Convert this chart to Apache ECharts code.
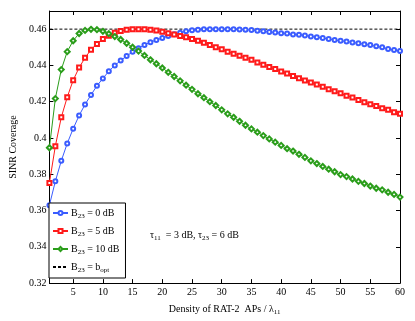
<!DOCTYPE html>
<html>
<head>
<meta charset="utf-8">
<script src="https://cdn.jsdelivr.net/npm/echarts@6/dist/echarts.min.js"></script>
<style>
  html, body { margin: 0; padding: 0; background: #fff; }
  #chart { width: 415px; height: 321px; }
</style>
</head>
<body>
<div id="chart"></div>
<script>
// density of RAT-2 APs / lambda_11
const density = [1, 2, 3, 4, 5, 6, 7, 8, 9, 10, 11, 12, 13, 14, 15, 16, 17, 18, 19, 20,
  21, 22, 23, 24, 25, 26, 27, 28, 29, 30, 31, 32, 33, 34, 35, 36, 37, 38, 39, 40,
  41, 42, 43, 44, 45, 46, 47, 48, 49, 50, 51, 52, 53, 54, 55, 56, 57, 58, 59, 60];

const b0 = [0.3629, 0.3761, 0.3874, 0.3970, 0.4051, 0.4124, 0.4185, 0.4237, 0.4288, 0.4328,
  0.4368, 0.4400, 0.4427, 0.4452, 0.4475, 0.4495, 0.4513, 0.4528, 0.4540, 0.4551,
  0.4562, 0.4572, 0.4580, 0.4588, 0.4594, 0.4597, 0.4599, 0.4600, 0.4600, 0.4600,
  0.4600, 0.4599, 0.4598, 0.4597, 0.4595, 0.4591, 0.4588, 0.4584, 0.4582, 0.4578,
  0.4576, 0.4571, 0.4569, 0.4565, 0.4560, 0.4555, 0.4551, 0.4546, 0.4540, 0.4536,
  0.4532, 0.4527, 0.4522, 0.4517, 0.4512, 0.4506, 0.4500, 0.4491, 0.4485, 0.4479];

const b5 = [0.3752, 0.3955, 0.4114, 0.4225, 0.4318, 0.4388, 0.4442, 0.4487, 0.4518, 0.4545,
  0.4564, 0.4580, 0.4590, 0.4596, 0.4599, 0.4600, 0.4599, 0.4596, 0.4592, 0.4586,
  0.4578, 0.4570, 0.4562, 0.4555, 0.4546, 0.4536, 0.4525, 0.4512, 0.4500, 0.4489,
  0.4476, 0.4464, 0.4453, 0.4442, 0.4431, 0.4416, 0.4404, 0.4391, 0.4380, 0.4367,
  0.4355, 0.4342, 0.4329, 0.4317, 0.4306, 0.4295, 0.4282, 0.4269, 0.4258, 0.4246,
  0.4233, 0.4223, 0.4209, 0.4197, 0.4186, 0.4176, 0.4164, 0.4155, 0.4142, 0.4133];

const b10 = [0.3946, 0.4217, 0.4377, 0.4476, 0.4536, 0.4576, 0.4593, 0.4599, 0.4597, 0.4588,
  0.4575, 0.4559, 0.4543, 0.4522, 0.4500, 0.4479, 0.4455, 0.4431, 0.4409, 0.4386,
  0.4362, 0.4339, 0.4315, 0.4291, 0.4268, 0.4244, 0.4222, 0.4200, 0.4179, 0.4155,
  0.4133, 0.4114, 0.4092, 0.4070, 0.4050, 0.4032, 0.4013, 0.3995, 0.3977, 0.3959,
  0.3941, 0.3928, 0.3910, 0.3893, 0.3874, 0.3859, 0.3843, 0.3828, 0.3814, 0.3798,
  0.3787, 0.3774, 0.3761, 0.3749, 0.3735, 0.3723, 0.3714, 0.3701, 0.3689, 0.3674];

const optLevel = 0.46;
const optX = [1, 60];

const xTicks = [5, 10, 15, 20, 25, 30, 35, 40, 45, 50, 55, 60];
const yTicks = [0.32, 0.34, 0.36, 0.38, 0.4, 0.42, 0.44, 0.46];

const seriesNames = ['B23 = 0 dB', 'B23 = 5 dB', 'B23 = 10 dB', 'B23 = b_opt'];
const legendRich = {
  '0': '{n|B}{s|23}{n| = 0 dB}',
  '1': '{n|B}{s|23}{n| = 5 dB}',
  '2': '{n|B}{s|23}{n| = 10 dB}',
  '3': '{n|B}{s|23}{n| = b}{s|opt}'
};

const font = 'Liberation Serif';
const rich = {
  n: { fontFamily: font, fontSize: 10, color: '#000', lineHeight: 14 },
  s: { fontFamily: font, fontSize: 7, color: '#000', lineHeight: 14, padding: [7, 0, 0, 0] }
};

function pairs(ys) {
  return density.map((x, i) => [x, ys[i]]);
}

const chart = echarts.init(document.getElementById('chart'), null, { renderer: 'canvas' });

const baseX = {
  type: 'value', min: 1, max: 60,
  axisLine: { show: true, onZero: false, lineStyle: { color: '#000', width: 1 } },
  splitLine: { show: false }
};
const baseY = {
  type: 'value', min: 0.32, max: 0.47, interval: 0.02,
  axisLine: { show: true, onZero: false, lineStyle: { color: '#000', width: 1 } },
  splitLine: { show: false }
};

const option = {
  animation: false,
  backgroundColor: '#fff',
  grid: { left: 35, right: 15, top: 11, bottom: 34, containLabel: false },
  xAxis: [
    Object.assign({}, baseX, {
      position: 'bottom',
      name: '{n|Density of RAT-2  APs / λ}{s|11}',
      nameLocation: 'middle',
      nameGap: 18,
      nameTextStyle: { rich: rich },
      axisTick: { inside: true, length: 4, customValues: xTicks, lineStyle: { color: '#000' } },
      axisLabel: { customValues: xTicks, fontFamily: font, fontSize: 10, color: '#000', margin: 4 }
    }),
    Object.assign({}, baseX, {
      position: 'top',
      axisTick: { inside: true, length: 4, customValues: xTicks, lineStyle: { color: '#000' } },
      axisLabel: { show: false }
    })
  ],
  yAxis: [
    Object.assign({}, baseY, {
      position: 'left',
      name: 'SINR Coverage',
      nameLocation: 'middle',
      nameGap: 24,
      nameTextStyle: { fontFamily: font, fontSize: 10, color: '#000' },
      axisTick: { inside: true, length: 4, customValues: yTicks, lineStyle: { color: '#000' } },
      axisLabel: { customValues: yTicks, fontFamily: font, fontSize: 10, color: '#000', margin: 3 }
    }),
    Object.assign({}, baseY, {
      position: 'right',
      axisTick: { inside: true, length: 4, customValues: yTicks, lineStyle: { color: '#000' } },
      axisLabel: { show: false }
    })
  ],
  legend: {
    orient: 'vertical',
    left: 49,
    top: 203,
    padding: [3, 6, 4, 3],
    itemGap: 4,
    itemWidth: 15,
    itemHeight: 5,
    backgroundColor: '#fff',
    borderColor: '#000',
    borderWidth: 1,
    borderRadius: 0,
    data: [
      seriesNames[0], seriesNames[1], seriesNames[2],
      { name: seriesNames[3], itemStyle: { opacity: 0 } }
    ],
    formatter: function (name) {
      return legendRich[seriesNames.indexOf(name)];
    },
    textStyle: { rich: rich, padding: [0, 0, 0, -2] }
  },
  graphic: [
    {
      type: 'text',
      left: 150,
      top: 228,
      style: {
        text: '{n|τ}{s|11}{n|  = 3 dB, τ}{s|23}{n| = 6 dB}',
        rich: rich
      }
    }
  ],
  series: [
    {
      name: seriesNames[0], type: 'line', data: pairs(b0),
      symbol: 'emptyCircle', symbolSize: 4,
      lineStyle: { color: '#3a5cff', width: 1 },
      itemStyle: { color: '#3a5cff', borderWidth: 0.9 }
    },
    {
      name: seriesNames[1], type: 'line', data: pairs(b5),
      symbol: 'emptyRect', symbolSize: 4,
      lineStyle: { color: '#ff1a1a', width: 1 },
      itemStyle: { color: '#ff1a1a', borderWidth: 0.9 }
    },
    {
      name: seriesNames[2], type: 'line', data: pairs(b10),
      symbol: 'emptyDiamond', symbolSize: 5,
      lineStyle: { color: '#2a9d1a', width: 1 },
      itemStyle: { color: '#2a9d1a', borderWidth: 0.9 }
    },
    {
      name: seriesNames[3], type: 'line', data: optX.map(x => [x, optLevel]),
      symbol: 'none',
      lineStyle: { color: '#000', width: 1, type: [3, 2] },
      itemStyle: { color: '#000' },
      z: 1
    }
  ]
};

chart.setOption(option);
</script>
</body>
</html>
